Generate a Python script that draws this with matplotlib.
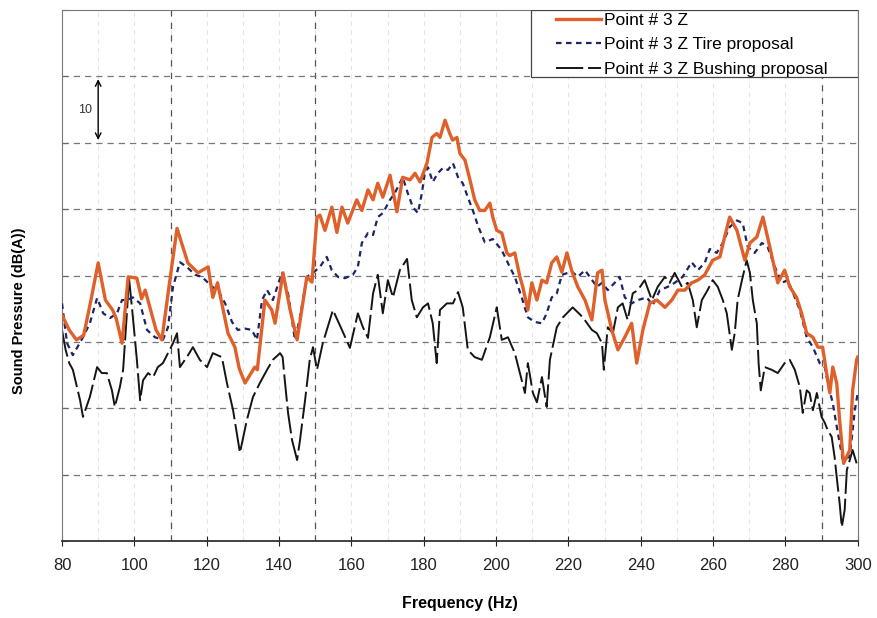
import numpy as np
import matplotlib
matplotlib.use("Agg")
import matplotlib.pyplot as plt
from matplotlib.patches import Rectangle

plt.rcParams['font.family'] = ['Liberation Sans', 'DejaVu Sans']

# Point # 3 Z
f_base = [80, 82, 84, 86, 88, 90, 92, 94, 95, 96.6, 98.3, 100.7, 102, 103, 106, 107.6,
          109.5, 111.8, 113.3, 114.8, 117.6, 120.4, 121.7, 123, 125.9, 127.8, 129, 130.6,
          133.3, 134, 136.1, 138, 138.9, 141.1, 143, 145, 147.7, 149.1, 150.5, 151.3,
          152.7, 154.6, 156, 157.4, 159, 161.5, 162.9, 164.6, 166, 167.3, 168.7, 170.7,
          172.6, 174.2, 176.2, 177.6, 179, 180.9, 182.3, 183.6, 184.5, 185.9, 187.2, 188,
          189.2, 190, 191.4, 192.8, 194.1, 195.5, 196.9, 198.3, 199.1, 200.2, 201.6, 203,
          203.8, 205.2, 206.6, 207.4, 208.8, 209.9, 211.3, 212.7, 214, 215.4, 216.8, 218.2,
          219.6, 221, 222.6, 224.6, 226.5, 228.1, 229.3, 230.1, 232, 233.7, 235.6, 237.5,
          238.9, 240.6, 242.5, 244.5, 246.7, 248.6, 250.3, 252.2, 254.1, 255.8, 257.7,
          259.9, 261.9, 263.2, 264.6, 266.6, 268.8, 270.2, 272.1, 273.8, 275.7, 277.9,
          279.8, 281.2, 283.1, 284.5, 285.9, 287.6, 289, 290.3, 291.4, 292.3, 293.1, 294.2,
          295, 296.1, 297.8, 298.6, 299.7, 300]
v_base = [34.0, 31.8, 30.3, 31.0, 36.3, 41.9, 36.3, 34.8, 33.5, 29.8, 39.8, 39.6, 36.5,
          37.8, 31.8, 30.3, 38.0, 47.1, 44.5, 41.9, 40.4, 41.3, 36.7, 38.9, 31.3, 29.2, 26.0,
          23.8, 26.2, 25.8, 36.3, 34.8, 32.8, 40.4, 35.0, 30.3, 39.8, 39.0, 48.8, 49.1,
          46.8, 50.3, 46.5, 50.3, 47.9, 51.4, 49.8, 52.9, 51.4, 53.9, 51.8, 55.1, 49.6,
          54.8, 54.4, 55.4, 54.1, 56.9, 60.8, 61.4, 60.8, 63.4, 61.4, 60.4, 60.8, 58.4,
          57.4, 54.4, 51.4, 49.8, 49.8, 50.9, 48.8, 46.8, 46.4, 43.4, 43.0, 43.4, 39.8,
          38.3, 34.8, 38.9, 36.3, 39.3, 38.9, 41.9, 42.8, 40.5, 43.4, 40.6, 38.3, 36.3,
          33.3, 40.4, 40.8, 36.3, 31.8, 28.8, 30.7, 32.8, 26.8, 31.8, 35.8, 36.3, 35.2,
          36.3, 37.8, 37.8, 38.9, 39.3, 40.1, 42.3, 42.8, 45.8, 48.8, 46.8, 42.3, 44.9,
          45.8, 48.8, 44.3, 38.9, 40.8, 38.3, 36.7, 34.3, 31.3, 30.7, 29.2, 29.2, 25.3,
          22.3, 26.2, 23.8, 18.2, 11.7, 13.7, 22.7, 27.3, 27.7]

# Point # 3 Z Tire proposal
f_tire = [80, 81.4, 83, 85.8, 87.7, 89.7, 91.4, 93.3, 95.2, 96.6, 98, 99.6, 101.6, 103.5,
          105.7, 107.9, 109.3, 110.7, 112.6, 114.5, 116.8, 118.7, 121.5, 123.1, 125.1, 127,
          128.6, 130.6, 132.5, 133.9, 135.3, 136.7, 138.3, 140.8, 142.5, 144.4, 145.8,
          147.7, 149.4, 151.3, 153.2, 154.6, 156.3, 158.2, 160.4, 161.8, 162.9, 164.6, 166,
          167.3, 168.7, 170.7, 172, 174.2, 175.6, 177, 178.4, 179.5, 180.3, 181.2, 182.5,
          183.9, 185.3, 186.7, 188.1, 189.5, 190.8, 192.2, 193.6, 195, 196.9, 199.1, 201.6,
          203.8, 205.2, 207.1, 208.8, 210.7, 212.7, 214, 215.4, 216.8, 218.2, 219.9, 221,
          222.6, 224.6, 225.9, 227.9, 229.3, 230.9, 232.8, 234.2, 235.6, 237.5, 239.2,
          241.7, 243.3, 245.3, 247.5, 249.4, 251.6, 254.1, 255.8, 257.7, 259.1, 261, 262.7,
          264.6, 266.6, 268.2, 269.6, 271.5, 273.5, 275.1, 277.1, 279, 280.7, 282.6, 284,
          285.9, 287.6, 289.5, 290.9, 291.7, 293.1, 294.5, 295.9, 297.8, 299.2, 300]
v_tire = [35.8, 29.8, 28.0, 30.7, 32.8, 36.6, 34.3, 33.6, 34.3, 36.3, 36.3, 36.7, 35.8,
          31.8, 30.7, 30.3, 32.2, 38.3, 42.0, 41.3, 40.1, 39.8, 38.3, 37.8, 35.8, 33.0,
          31.8, 32.0, 31.8, 30.3, 36.3, 37.8, 36.3, 40.4, 37.3, 30.3, 33.7, 39.8, 40.4,
          41.3, 42.8, 40.8, 39.8, 39.6, 40.1, 41.3, 44.9, 46.4, 46.1, 48.8, 49.4, 51.4,
          52.4, 54.8, 52.4, 50.3, 49.4, 52.4, 55.4, 56.3, 54.1, 55.4, 56.2, 55.9, 56.9,
          54.8, 53.9, 51.8, 49.8, 47.5, 45.0, 45.5, 43.8, 41.3, 39.8, 36.7, 33.7, 33.0,
          32.8, 34.3, 36.7, 37.3, 40.1, 40.4, 40.6, 39.8, 40.8, 39.8, 38.3, 38.9, 37.8,
          38.9, 39.8, 36.7, 35.8, 36.3, 36.7, 35.5, 37.8, 38.3, 38.9, 39.8, 42.0, 40.8,
          41.9, 44.0, 43.4, 44.9, 47.3, 48.3, 47.9, 44.3, 43.4, 44.9, 44.3, 41.3, 38.9,
          39.3, 36.7, 34.8, 30.7, 29.2, 26.8, 26.2, 23.8, 20.8, 16.3, 12.2, 12.7, 19.7,
          22.3]

# Point # 3 Z Bushing proposal
f_bush = [80, 81, 82, 83, 85, 85.8, 87.7, 89.7, 91, 92.4, 93.8, 94.6, 96, 96.9, 98, 98.5,
          99.6, 100.7, 101.6, 102.4, 103.8, 105.2, 106.5, 107.9, 109.3, 110.7, 111.8,
          112.6, 114.5, 116.2, 118.1, 120.1, 121.7, 124.2, 125.6, 127.3, 129.2, 131.1,
          132.8, 134.7, 136.7, 138.3, 140.3, 141, 141.6, 142.5, 143.6, 145, 145.8, 147.2,
          148.5, 149.4, 150.5, 152.1, 154.9, 157.4, 159.6, 161.8, 163.2, 164.6, 166, 167.3,
          168.7, 170.1, 171.5, 173.4, 175.4, 176.7, 178.1, 179.8, 181.2, 182.5, 183.6,
          184.5, 186.4, 188.1, 189.5, 190.8, 192.2, 194.1, 196.1, 198.3, 200.2, 201.6,
          203.3, 205.2, 207.1, 208, 208.8, 210.2, 211.3, 212.7, 214, 214.9, 216.8, 218.5,
          221.2, 224, 226.5, 227.9, 229.3, 229.8, 230.9, 232.3, 233.7, 235, 236.4, 237.8,
          239.2, 241.1, 243.1, 244.7, 246.7, 248, 249.4, 251.4, 253, 254.4, 255.5, 256.9,
          258.5, 259.9, 261.3, 262.7, 263.8, 265.2, 266, 266.8, 268, 269.3, 270.2, 271,
          272.1, 272.6, 273.2, 274.3, 276.2, 277.9, 279.8, 281.2, 282.6, 284, 284.8, 285.9,
          286.7, 287.6, 288.7, 290, 290.9, 291.7, 292.8, 293.6, 294.2, 295, 295.6, 296.4,
          297, 297.8, 298.6, 299.7]
v_bush = [31.8, 28.8, 26.8, 25.8, 21.2, 18.7, 21.7, 26.2, 25.3, 25.3, 22.7, 20.2, 23.2,
          25.8, 34.8, 39.8, 33.7, 27.3, 21.2, 24.2, 25.3, 24.7, 26.2, 26.8, 28.3, 29.8,
          31.3, 26.2, 27.7, 29.2, 27.3, 26.2, 28.3, 27.7, 23.8, 19.7, 13.3, 18.2, 21.7,
          23.8, 25.8, 27.3, 28.3, 27.7, 24.2, 19.3, 15.2, 12.2, 15.2, 21.2, 27.3, 29.2,
          25.8, 29.8, 34.8, 31.8, 29.1, 34.3, 32.2, 30.6, 37.3, 40.1, 34.3, 39.3, 36.7,
          40.8, 42.5, 36.3, 33.7, 35.2, 35.8, 32.8, 26.8, 34.8, 35.8, 35.8, 37.5, 35.2,
          28.8, 27.7, 27.3, 30.7, 35.2, 30.3, 30.7, 28.3, 24.2, 22.3, 26.8, 22.3, 20.9,
          24.7, 20.2, 27.3, 32.2, 33.7, 35.2, 33.7, 31.8, 31.3, 29.8, 25.8, 32.2, 31.3,
          35.2, 35.8, 33.3, 37.3, 37.8, 39.3, 36.3, 38.3, 39.8, 38.9, 40.4, 38.3, 38.9,
          36.3, 32.2, 36.3, 37.8, 39.3, 38.3, 36.3, 34.3, 28.8, 31.3, 36.3, 39.3, 42.3,
          40.4, 36.3, 32.8, 26.8, 22.7, 26.2, 25.8, 25.3, 26.8, 27.3, 25.8, 23.2, 19.3,
          22.7, 22.3, 19.7, 22.3, 18.7, 17.8, 16.7, 15.7, 12.7, 9.6, 5.7, 2.1, 4.7, 10.7,
          12.2, 13.7, 11.7]

fig = plt.figure(figsize=(8.77, 6.18), dpi=100)
ax = fig.add_axes([0.0707, 0.1246, 0.9073, 0.8592])

# light gridlines every 10 Hz, darker marker lines
for f in range(90, 300, 10):
    ax.axvline(f, color='#e4e4e4', lw=0.8, ls=(0, (4, 4)), zorder=0)
for f in [110, 150, 290]:
    ax.axvline(f, color='#555555', lw=0.9, ls=(0, (5, 5)), zorder=0)
for y in range(10, 80, 10):
    ax.axhline(y, color='#777777', lw=0.9, ls=(0, (5, 4)), zorder=0)

ax.plot(f_bush, v_bush, color='#151515', lw=1.4, ls=(0, (14, 2.5)),
        label='Point # 3 Z Bushing proposal', zorder=2)
ax.plot(f_tire, v_tire, color='#1c2566', lw=1.6, ls=(0, (2.5, 2)),
        label='Point # 3 Z Tire proposal', zorder=3)
ax.plot(f_base, v_base, color='#e0602a', lw=2.4, label='Point # 3 Z', zorder=4)

ax.set_xlim(80, 300)
ax.set_ylim(0, 80)
ax.set_xticks(range(80, 301, 20))
ax.set_yticks(range(0, 81, 10))
ax.set_yticklabels([])
ax.tick_params(axis='x', direction='inout', length=7, labelsize=12, pad=9,
               colors='#222222')
ax.tick_params(axis='y', direction='in', length=4, colors='#666666')
for s in ['top', 'right', 'left']:
    ax.spines[s].set_color('#777777')
ax.spines['bottom'].set_color('#333333')
ax.spines['bottom'].set_linewidth(1.3)

ax.set_xlabel('Frequency (Hz)', fontsize=11.5, fontweight='bold', labelpad=16)
ax.set_ylabel('Sound Pressure (dB(A))', fontsize=10.5, fontweight='bold')
ax.yaxis.set_label_coords(-0.045, 0.433)

# 10 dB scale arrow
ax.annotate('', xy=(90, 70), xytext=(90, 60),
            arrowprops=dict(arrowstyle='<->', color='black', lw=1.0))
ax.text(88.3, 65, '10', fontsize=9, ha='right', va='center', color='#333333')

# legend box
ax.add_patch(Rectangle((0.590, 0.874), 0.41, 0.126, transform=ax.transAxes,
                       facecolor='white', edgecolor='#444444', lw=0.9, zorder=5))
handles, labels = ax.get_legend_handles_labels()
order = [2, 1, 0]
leg = ax.legend([handles[i] for i in order], [labels[i] for i in order],
                loc='upper left', bbox_to_anchor=(0.621, 0.995), fontsize=12.5,
                handlelength=2.6, handletextpad=0.15, borderpad=0,
                labelspacing=0.54, frameon=False, borderaxespad=0)
leg.set_zorder(6)

fig.savefig('out.png', dpi=100)
